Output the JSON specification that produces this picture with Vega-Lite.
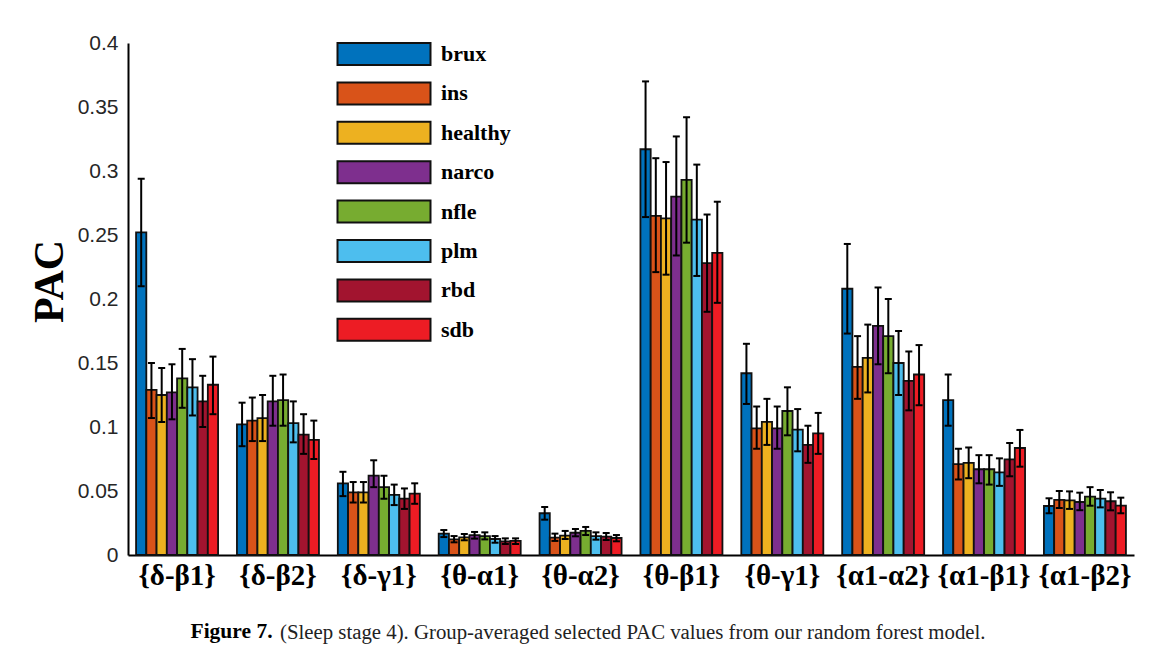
{
  "$schema": "https://vega.github.io/schema/vega-lite/v6.json",
  "width": 1006,
  "height": 512,
  "autosize": {"type": "none"},
  "padding": {"left": 128, "top": 43, "right": 36, "bottom": 111},
  "background": "white",
  "config": {"view": {"stroke": null}},
  "title": {
    "text": "(Sleep stage 4). Group-averaged selected PAC values from our random forest model.",
    "orient": "bottom",
    "anchor": "start",
    "frame": "group",
    "dx": 152,
    "offset": -19,
    "font": "Liberation Serif",
    "fontSize": 20.8,
    "fontWeight": "normal",
    "color": "#222222",
    "baseline": "top"
  },
  "data": {
    "values": [
      {"g": "{δ-β1}", "c": "brux", "v": 0.252, "lo": 0.210, "hi": 0.294},
      {"g": "{δ-β1}", "c": "ins", "v": 0.129, "lo": 0.107, "hi": 0.150},
      {"g": "{δ-β1}", "c": "healthy", "v": 0.125, "lo": 0.104, "hi": 0.146},
      {"g": "{δ-β1}", "c": "narco", "v": 0.127, "lo": 0.106, "hi": 0.149},
      {"g": "{δ-β1}", "c": "nfle", "v": 0.138, "lo": 0.115, "hi": 0.161},
      {"g": "{δ-β1}", "c": "plm", "v": 0.131, "lo": 0.109, "hi": 0.153},
      {"g": "{δ-β1}", "c": "rbd", "v": 0.120, "lo": 0.100, "hi": 0.140},
      {"g": "{δ-β1}", "c": "sdb", "v": 0.133, "lo": 0.110, "hi": 0.155},
      {"g": "{δ-β2}", "c": "brux", "v": 0.102, "lo": 0.085, "hi": 0.119},
      {"g": "{δ-β2}", "c": "ins", "v": 0.105, "lo": 0.089, "hi": 0.123},
      {"g": "{δ-β2}", "c": "healthy", "v": 0.107, "lo": 0.089, "hi": 0.125},
      {"g": "{δ-β2}", "c": "narco", "v": 0.120, "lo": 0.101, "hi": 0.140},
      {"g": "{δ-β2}", "c": "nfle", "v": 0.121, "lo": 0.101, "hi": 0.141},
      {"g": "{δ-β2}", "c": "plm", "v": 0.103, "lo": 0.088, "hi": 0.120},
      {"g": "{δ-β2}", "c": "rbd", "v": 0.094, "lo": 0.079, "hi": 0.110},
      {"g": "{δ-β2}", "c": "sdb", "v": 0.090, "lo": 0.075, "hi": 0.105},
      {"g": "{δ-γ1}", "c": "brux", "v": 0.056, "lo": 0.046, "hi": 0.065},
      {"g": "{δ-γ1}", "c": "ins", "v": 0.049, "lo": 0.041, "hi": 0.057},
      {"g": "{δ-γ1}", "c": "healthy", "v": 0.049, "lo": 0.041, "hi": 0.057},
      {"g": "{δ-γ1}", "c": "narco", "v": 0.062, "lo": 0.053, "hi": 0.074},
      {"g": "{δ-γ1}", "c": "nfle", "v": 0.053, "lo": 0.044, "hi": 0.062},
      {"g": "{δ-γ1}", "c": "plm", "v": 0.047, "lo": 0.039, "hi": 0.055},
      {"g": "{δ-γ1}", "c": "rbd", "v": 0.044, "lo": 0.036, "hi": 0.052},
      {"g": "{δ-γ1}", "c": "sdb", "v": 0.048, "lo": 0.040, "hi": 0.056},
      {"g": "{θ-α1}", "c": "brux", "v": 0.0167, "lo": 0.0140, "hi": 0.0195},
      {"g": "{θ-α1}", "c": "ins", "v": 0.0122, "lo": 0.0099, "hi": 0.0148},
      {"g": "{θ-α1}", "c": "healthy", "v": 0.0138, "lo": 0.0115, "hi": 0.0164},
      {"g": "{θ-α1}", "c": "narco", "v": 0.0156, "lo": 0.0128, "hi": 0.0180},
      {"g": "{θ-α1}", "c": "nfle", "v": 0.0148, "lo": 0.0122, "hi": 0.0177},
      {"g": "{θ-α1}", "c": "plm", "v": 0.0125, "lo": 0.0096, "hi": 0.0148},
      {"g": "{θ-α1}", "c": "rbd", "v": 0.0107, "lo": 0.0086, "hi": 0.0130},
      {"g": "{θ-α1}", "c": "sdb", "v": 0.0110, "lo": 0.0086, "hi": 0.0130},
      {"g": "{θ-α2}", "c": "brux", "v": 0.0326, "lo": 0.0276, "hi": 0.0375},
      {"g": "{θ-α2}", "c": "ins", "v": 0.0135, "lo": 0.0110, "hi": 0.0167},
      {"g": "{θ-α2}", "c": "healthy", "v": 0.0151, "lo": 0.0125, "hi": 0.0188},
      {"g": "{θ-α2}", "c": "narco", "v": 0.0174, "lo": 0.0146, "hi": 0.0203},
      {"g": "{θ-α2}", "c": "nfle", "v": 0.0188, "lo": 0.0156, "hi": 0.0219},
      {"g": "{θ-α2}", "c": "plm", "v": 0.0148, "lo": 0.0120, "hi": 0.0177},
      {"g": "{θ-α2}", "c": "rbd", "v": 0.0143, "lo": 0.0117, "hi": 0.0172},
      {"g": "{θ-α2}", "c": "sdb", "v": 0.0133, "lo": 0.0107, "hi": 0.0156},
      {"g": "{θ-β1}", "c": "brux", "v": 0.317, "lo": 0.264, "hi": 0.370},
      {"g": "{θ-β1}", "c": "ins", "v": 0.265, "lo": 0.221, "hi": 0.310},
      {"g": "{θ-β1}", "c": "healthy", "v": 0.263, "lo": 0.219, "hi": 0.307},
      {"g": "{θ-β1}", "c": "narco", "v": 0.280, "lo": 0.234, "hi": 0.327},
      {"g": "{θ-β1}", "c": "nfle", "v": 0.293, "lo": 0.244, "hi": 0.342},
      {"g": "{θ-β1}", "c": "plm", "v": 0.262, "lo": 0.218, "hi": 0.305},
      {"g": "{θ-β1}", "c": "rbd", "v": 0.228, "lo": 0.190, "hi": 0.266},
      {"g": "{θ-β1}", "c": "sdb", "v": 0.236, "lo": 0.197, "hi": 0.276},
      {"g": "{θ-γ1}", "c": "brux", "v": 0.142, "lo": 0.118, "hi": 0.165},
      {"g": "{θ-γ1}", "c": "ins", "v": 0.099, "lo": 0.083, "hi": 0.116},
      {"g": "{θ-γ1}", "c": "healthy", "v": 0.104, "lo": 0.086, "hi": 0.122},
      {"g": "{θ-γ1}", "c": "narco", "v": 0.099, "lo": 0.083, "hi": 0.116},
      {"g": "{θ-γ1}", "c": "nfle", "v": 0.1125, "lo": 0.0935, "hi": 0.131},
      {"g": "{θ-γ1}", "c": "plm", "v": 0.098, "lo": 0.081, "hi": 0.114},
      {"g": "{θ-γ1}", "c": "rbd", "v": 0.086, "lo": 0.072, "hi": 0.101},
      {"g": "{θ-γ1}", "c": "sdb", "v": 0.095, "lo": 0.079, "hi": 0.111},
      {"g": "{α1-α2}", "c": "brux", "v": 0.208, "lo": 0.173, "hi": 0.243},
      {"g": "{α1-α2}", "c": "ins", "v": 0.147, "lo": 0.122, "hi": 0.171},
      {"g": "{α1-α2}", "c": "healthy", "v": 0.154, "lo": 0.127, "hi": 0.180},
      {"g": "{α1-α2}", "c": "narco", "v": 0.179, "lo": 0.149, "hi": 0.209},
      {"g": "{α1-α2}", "c": "nfle", "v": 0.171, "lo": 0.142, "hi": 0.200},
      {"g": "{α1-α2}", "c": "plm", "v": 0.150, "lo": 0.125, "hi": 0.175},
      {"g": "{α1-α2}", "c": "rbd", "v": 0.136, "lo": 0.113, "hi": 0.159},
      {"g": "{α1-α2}", "c": "sdb", "v": 0.141, "lo": 0.117, "hi": 0.164},
      {"g": "{α1-β1}", "c": "brux", "v": 0.121, "lo": 0.101, "hi": 0.141},
      {"g": "{α1-β1}", "c": "ins", "v": 0.071, "lo": 0.059, "hi": 0.083},
      {"g": "{α1-β1}", "c": "healthy", "v": 0.072, "lo": 0.060, "hi": 0.084},
      {"g": "{α1-β1}", "c": "narco", "v": 0.067, "lo": 0.056, "hi": 0.078},
      {"g": "{α1-β1}", "c": "nfle", "v": 0.067, "lo": 0.055, "hi": 0.078},
      {"g": "{α1-β1}", "c": "plm", "v": 0.0646, "lo": 0.054, "hi": 0.0755},
      {"g": "{α1-β1}", "c": "rbd", "v": 0.0747, "lo": 0.0615, "hi": 0.0875},
      {"g": "{α1-β1}", "c": "sdb", "v": 0.0836, "lo": 0.069, "hi": 0.0977},
      {"g": "{α1-β2}", "c": "brux", "v": 0.0383, "lo": 0.0326, "hi": 0.0443},
      {"g": "{α1-β2}", "c": "ins", "v": 0.043, "lo": 0.0367, "hi": 0.050},
      {"g": "{α1-β2}", "c": "healthy", "v": 0.0427, "lo": 0.036, "hi": 0.0497},
      {"g": "{α1-β2}", "c": "narco", "v": 0.0414, "lo": 0.035, "hi": 0.0487},
      {"g": "{α1-β2}", "c": "nfle", "v": 0.0456, "lo": 0.0385, "hi": 0.053},
      {"g": "{α1-β2}", "c": "plm", "v": 0.044, "lo": 0.0372, "hi": 0.0508},
      {"g": "{α1-β2}", "c": "rbd", "v": 0.042, "lo": 0.0349, "hi": 0.049},
      {"g": "{α1-β2}", "c": "sdb", "v": 0.0385, "lo": 0.0326, "hi": 0.0448}
    ]
  },
  "encoding": {
    "x": {
      "field": "g",
      "type": "nominal",
      "sort": ["{δ-β1}", "{δ-β2}", "{δ-γ1}", "{θ-α1}", "{θ-α2}", "{θ-β1}", "{θ-γ1}", "{α1-α2}", "{α1-β1}", "{α1-β2}"],
      "scale": {"paddingInner": 0.187, "paddingOuter": 0.08},
      "axis": {
        "labelAngle": 0,
        "ticks": false,
        "domainColor": "#000000",
        "domainWidth": 2,
        "labelFont": "Liberation Serif",
        "labelFontWeight": "bold",
        "labelFontSize": 29,
        "labelColor": "#000000",
        "labelPadding": 6,
        "labelBaseline": "top",
        "title": "Figure 7.",
        "titleFont": "Liberation Serif",
        "titleFontSize": 21.5,
        "titleFontWeight": "bold",
        "titleColor": "#000000",
        "titleX": 62,
        "titleY": 76,
        "titleAnchor": "start",
        "titleAlign": "left",
        "titleBaseline": "middle"
      }
    },
    "xOffset": {
      "field": "c",
      "type": "nominal",
      "sort": ["brux", "ins", "healthy", "narco", "nfle", "plm", "rbd", "sdb"],
      "scale": {"paddingInner": 0, "paddingOuter": 0}
    }
  },
  "layer": [
    {
      "mark": {"type": "bar", "stroke": "#111111", "strokeWidth": 1.8},
      "encoding": {
        "y": {
          "field": "v",
          "type": "quantitative",
          "title": "PAC",
          "scale": {"domain": [0, 0.4], "nice": false},
          "axis": {
            "values": [0, 0.05, 0.1, 0.15, 0.2, 0.25, 0.3, 0.35, 0.4],
            "format": "~g",
            "grid": false,
            "ticks": false,
            "domainColor": "#000000",
            "domainWidth": 2,
            "labelFont": "Liberation Sans",
            "labelFontSize": 21,
            "labelColor": "#262626",
            "labelPadding": 10,
            "titleFont": "Liberation Serif",
            "titleFontSize": 42,
            "titleFontWeight": "bold",
            "titleColor": "#000000",
            "titlePadding": 6,
            "titleY": 238
          }
        },
        "color": {
          "field": "c",
          "type": "nominal",
          "sort": ["brux", "ins", "healthy", "narco", "nfle", "plm", "rbd", "sdb"],
          "scale": {
            "domain": ["brux", "ins", "healthy", "narco", "nfle", "plm", "rbd", "sdb"],
            "range": ["#0072BD", "#D95319", "#EDB120", "#7E2F8E", "#77AC30", "#4DBEEE", "#A2142F", "#ED1C24"]
          },
          "legend": {
            "title": null,
            "orient": "none",
            "legendX": 244,
            "legendY": -1,
            "symbolType": "M-4.227,-1H4.227V1H-4.227Z",
            "symbolSize": 484,
            "symbolStrokeColor": "#111111",
            "symbolStrokeWidth": 2,
            "symbolOpacity": 1,
            "labelFont": "Liberation Serif",
            "labelFontWeight": "bold",
            "labelFontSize": 22,
            "labelColor": "#000000",
            "labelOffset": 45,
            "rowPadding": 9.4,
            "labelLimit": 300
          }
        }
      }
    },
    {
      "mark": {"type": "rule", "color": "#000000", "strokeWidth": 2},
      "encoding": {
        "y": {"field": "lo", "type": "quantitative", "title": "PAC"},
        "y2": {"field": "hi"}
      }
    },
    {
      "mark": {"type": "tick", "orient": "horizontal", "size": 7, "thickness": 2, "color": "#000000", "opacity": 1},
      "encoding": {
        "y": {"field": "lo", "type": "quantitative", "title": "PAC"}
      }
    },
    {
      "mark": {"type": "tick", "orient": "horizontal", "size": 7, "thickness": 2, "color": "#000000", "opacity": 1},
      "encoding": {
        "y": {"field": "hi", "type": "quantitative", "title": "PAC"}
      }
    }
  ]
}
